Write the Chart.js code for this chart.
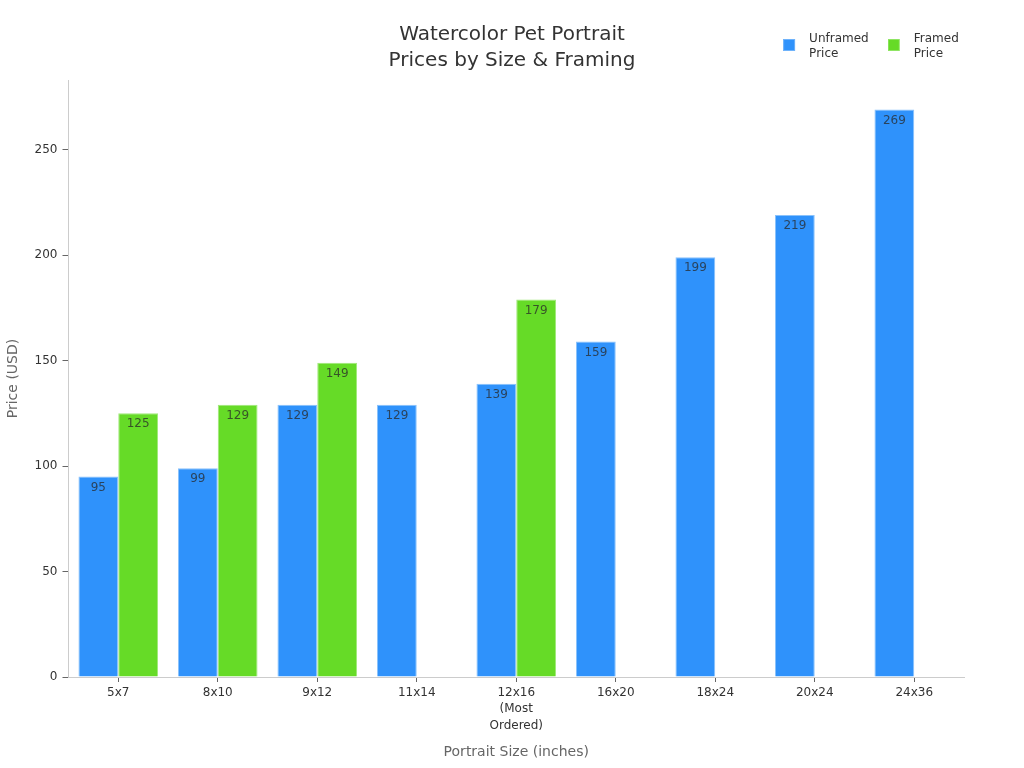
<!DOCTYPE html>
<html>
<head>
<meta charset="utf-8">
<title>Watercolor Pet Portrait Prices</title>
<script src="https://cdn.jsdelivr.net/npm/chart.js@4/dist/chart.umd.min.js"></script>
<style>
    html, body { margin: 0; padding: 0; background: #fff; }
    canvas { display: block; }
</style>
</head>
<body>
<canvas id="priceChart" width="1024" height="768"></canvas>
<script>
const categories = ["5x7", "8x10", "9x12", "11x14", ["12x16", "(Most", "Ordered)"], "16x20", "18x24", "20x24", "24x36"];
const unframedPrices = [95, 99, 129, 129, 139, 159, 199, 219, 269];
const framedPrices = [125, 129, 149, null, 179, null, null, null, null];
const priceTicks = [0, 50, 100, 150, 200, 250];

const FONT = "'DejaVu Sans', sans-serif";

// legend marker: the box is wider and taller than the square, so the text sits right of it
// and the square stays centred on the two text lines
function legendMarker(fill, edge) {
    const c = document.createElement("canvas");
    c.width = 20; c.height = 26;
    const g = c.getContext("2d");
    g.fillStyle = fill;
    g.fillRect(0, 13, 12, 12);
    g.strokeStyle = edge;
    g.strokeRect(0.5, 13.5, 11, 11);
    return c;
}

// values inside the top of each bar
const barValues = {
    id: "barValues",
    afterDatasetsDraw(chart) {
        const ctx = chart.ctx;
        ctx.save();
        ctx.font = "12px " + FONT;
        ctx.fillStyle = "rgba(40,40,40,0.75)";
        ctx.textAlign = "center";
        ctx.textBaseline = "middle";
        chart.data.datasets.forEach((ds, i) => {
            chart.getDatasetMeta(i).data.forEach((bar, j) => {
                if (ds.data[j] != null) ctx.fillText(ds.data[j], bar.x, bar.y + 11);
            });
        });
        ctx.restore();
    }
};

// legend sits beside the title, not under it, and the title centres on the whole page
const legendBeside = {
    id: "legendBeside",
    beforeLayout(chart) {
        const legend = chart.legend;
        const fit = Object.getPrototypeOf(legend).fit;
        legend.fit = function () { fit.call(this); this.height = 0; };
    },
    afterLayout(chart) {
        const legend = chart.legend;
        legend.top = 21;
        legend.bottom = 80;
        legend.left = 751;
        legend.right = 1024;
        chart.titleBlock.left = 0;
        chart.titleBlock.right = 1024;
    }
};

new Chart(document.getElementById("priceChart"), {
    type: "bar",
    data: {
        labels: categories,
        datasets: [
            {
                label: ["Unframed", "Price"],
                data: unframedPrices,
                backgroundColor: "#2f92fb",
                borderColor: "#8ac2fb",
                borderWidth: 1,
                pointStyle: legendMarker("#2f92fb", "#6fb3fb")
            },
            {
                label: ["Framed", "Price"],
                data: framedPrices,
                backgroundColor: "#66db27",
                borderColor: "#a0e87a",
                borderWidth: 1,
                pointStyle: legendMarker("#66db27", "#8fe563")
            }
        ]
    },
    options: {
        responsive: false,
        animation: false,
        devicePixelRatio: 1,
        layout: { padding: { left: 0, right: 60, top: 22, bottom: 7 } },
        datasets: { bar: { categoryPercentage: 0.8, barPercentage: 1 } },
        scales: {
            x: {
                grid: { drawOnChartArea: false, offset: false, color: "#666", tickLength: 5 },
                border: { color: "#ccc" },
                ticks: { color: "#333", font: { family: FONT, size: 12, lineHeight: 1.35 }, maxRotation: 0, padding: 3 },
                title: { display: true, text: "Portrait Size (inches)", color: "#666", font: { family: FONT, size: 14 }, padding: { top: 6, bottom: 0 } },
                afterFit(scale) { scale.height = 84; }
            },
            y: {
                min: 0,
                max: 283,
                grid: { drawOnChartArea: false, color: "#666", tickLength: 6 },
                border: { color: "#ccc" },
                ticks: { color: "#333", font: { family: FONT, size: 12 }, padding: 5 },
                title: { display: true, text: "Price (USD)", color: "#666", font: { family: FONT, size: 14 }, padding: { top: 5, bottom: 0 } },
                afterBuildTicks(scale) { scale.ticks = priceTicks.map(v => ({ value: v })); },
                afterFit(scale) { scale.width = 68.5; }
            }
        },
        plugins: {
            title: {
                display: true,
                text: ["Watercolor Pet Portrait", "Prices by Size & Framing"],
                color: "#333",
                font: { family: FONT, size: 20, weight: "normal", lineHeight: 1.3 },
                padding: { top: 0, bottom: 6 }
            },
            legend: {
                position: "top",
                align: "center",
                // empty legend title only pushes the rows down past the negative label padding
                title: { display: true, text: "", font: { size: 10, lineHeight: 1 }, padding: { top: 0, bottom: 16 } },
                labels: {
                    usePointStyle: true,
                    pointStyleWidth: 20,
                    boxHeight: 12,
                    padding: -14,
                    color: "#333",
                    font: { family: FONT, size: 12, lineHeight: 1.25 }
                }
            },
            tooltip: { enabled: false }
        }
    },
    plugins: [barValues, legendBeside]
});
</script>
</body>
</html>
